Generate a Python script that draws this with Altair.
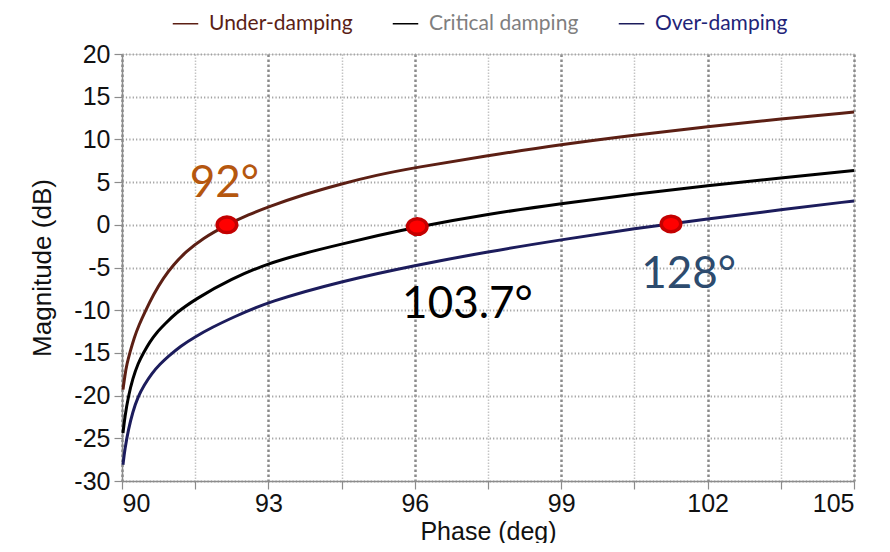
import altair as alt
import pandas as pd

# ---------------- data ----------------
series_names = ["Under-damping", "Critical damping", "Over-damping"]

under_phase = [90.02, 90.06, 90.10, 90.16, 90.25, 90.35, 90.47, 90.65, 90.85, 91.05, 91.30, 91.65,
               92.15, 92.6, 93.0, 93.7, 94.5, 95.2, 96.0, 97.5, 99.0, 100.5, 102.0, 103.5, 105.0]
under_mag = [-19.3, -17.6, -16.3, -15.0, -13.2, -11.7, -10.2, -8.1, -6.2, -4.7, -3.2, -1.6,
             0.0, 1.2, 2.1, 3.5, 4.8, 5.8, 6.7, 8.1, 9.4, 10.5, 11.5, 12.4, 13.2]

crit_phase = [90.02, 90.06, 90.13, 90.22, 90.33, 90.44, 90.57, 90.71, 90.90, 91.09, 91.50, 92.25,
              93.0, 93.75, 94.5, 95.25, 96.0, 97.5, 99.0, 100.5, 102.0, 103.5, 105.0]
crit_mag = [-24.4, -22.4, -20.1, -18.0, -16.2, -15.0, -13.7, -12.6, -11.5, -10.4, -8.7, -6.3,
            -4.5, -3.3, -2.25, -1.25, -0.3, 1.25, 2.5, 3.6, 4.6, 5.5, 6.35]

over_phase = [90.02, 90.06, 90.13, 90.22, 90.33, 90.45, 90.61, 90.78, 90.95, 91.2, 91.5, 91.85,
              92.25, 93.0, 94.5, 96.0, 97.5, 99.0, 100.5, 102.0, 103.5, 105.0]
over_mag = [-28.1, -26.2, -24.0, -21.9, -20.1, -18.8, -17.4, -16.3, -15.4, -14.2, -13.1, -12.0,
            -10.9, -9.0, -6.6, -4.75, -3.15, -1.75, -0.45, 0.7, 1.75, 2.8]

marker_phase = [92.15, 96.05, 101.25]
marker_mag = [0.0, -0.2, 0.1]

label_texts = ["92°", "103.7°", "128°"]
label_phase = [91.39, 95.74, 100.64]
label_mag = [3.3, -10.9, -7.4]
label_colors = ["#b5570f", "#000000", "#2d4b6e"]

x_ticks = [90, 91.5, 93, 94.5, 96, 97.5, 99, 100.5, 102, 103.5, 105]
y_ticks = [-30, -27.5, -25, -22.5, -20, -17.5, -15, -12.5, -10, -7.5, -5, -2.5,
           0, 2.5, 5, 7.5, 10, 12.5, 15, 17.5, 20]

line_colors = ["#5c1f14", "#000000", "#1c1c5c"]

# ---------------- tables ----------------
rows = []
for name, ph, mg in zip(series_names,
                        [under_phase, crit_phase, over_phase],
                        [under_mag, crit_mag, over_mag]):
    for i, (p, m) in enumerate(zip(ph, mg)):
        rows.append({"series": name, "phase": p, "mag": m, "idx": i})
curves = pd.DataFrame(rows)

markers = pd.DataFrame({"phase": marker_phase, "mag": marker_mag})
labels = pd.DataFrame({"text": label_texts, "phase": label_phase,
                       "mag": label_mag, "color": label_colors})

# ---------------- scales / axes ----------------
x_scale = alt.Scale(domain=[90, 105], nice=False, zero=False)
y_scale = alt.Scale(domain=[-30, 20], nice=False, zero=False)

axis_common = dict(
    domainColor="#8c8c8c", domainWidth=1.5,
    tickColor="#8c8c8c", tickSize=8, tickWidth=1.2,
    labelFont="Liberation Sans", labelFontSize=25, labelColor="#111111",
    titleFont="Liberation Sans", titleFontWeight="normal",
    titleColor="#111111", grid=True,
)

x_axis = alt.Axis(
    values=x_ticks, title="Phase (deg)",
    labelExpr="datum.value % 3 === 0 ? '' + datum.value : ''",
    labelPadding=2, titlePadding=3, titleFontSize=25,
    gridColor={"condition": {"test": "datum.value % 3 === 0", "value": "#8a8a8a"}, "value": "#c4c4c4"},
    gridDash={"condition": {"test": "datum.value % 3 === 0", "value": [2.5, 2.5]}, "value": [1.5, 1.5]},
    gridWidth={"condition": {"test": "datum.value % 3 === 0", "value": 2.5}, "value": 1.5},
    **axis_common,
)

y_axis = alt.Axis(
    values=y_ticks, title="Magnitude (dB)",
    labelExpr="datum.value % 5 === 0 ? '' + datum.value : ''",
    labelPadding=4, titlePadding=18, titleFontSize=26,
    gridColor={"condition": {"test": "datum.value % 5 === 0", "value": "#a0a0a0"}, "value": "#cfcfcf"},
    gridDash=[1.2, 2.2],
    gridWidth=2.2,
    **axis_common,
)

x_enc = alt.X("phase:Q", scale=x_scale, axis=x_axis)
y_enc = alt.Y("mag:Q", scale=y_scale, axis=y_axis)

legend = alt.Legend(
    title=None, orient="none", legendX=50, legendY=-44, direction="horizontal",
    symbolType="stroke", symbolSize=650, symbolStrokeWidth=1.5,
    symbolStrokeColor=alt.ExprRef(
        "datum.value === 'Under-damping' ? '#b89a82' : datum.value === 'Critical damping' ? '#bdbdbd' : '#30307a'"),
    labelFont="Lato", labelFontSize=21, labelLimit=300,
    labelColor=alt.ExprRef(
        "datum.label === 'Under-damping' ? '#5a1e16' : datum.label === 'Critical damping' ? '#7f7f7f' : '#1f2478'"),
    columnPadding=36, labelOffset=10, padding=0,
)

lines = alt.Chart(curves).mark_line(strokeWidth=3, interpolate="basis").encode(
    x=x_enc, y=y_enc,
    color=alt.Color("series:N", sort=series_names,
                    scale=alt.Scale(domain=series_names, range=line_colors),
                    legend=legend),
    order=alt.Order("idx:Q"),
)

ellipse = "M -1 0 A 1 0.8 0 1 0 1 0 A 1 0.8 0 1 0 -1 0 Z"
dots = alt.Chart(markers).mark_point(
    shape=ellipse, filled=True, fill="#ff0000", stroke="#c40000",
    strokeWidth=3.5, size=380, opacity=1,
).encode(x=alt.X("phase:Q", scale=x_scale), y=alt.Y("mag:Q", scale=y_scale))

texts = alt.Chart(labels).mark_text(
    align="left", baseline="alphabetic", font="Lato", fontSize=44,
).encode(
    x=alt.X("phase:Q", scale=x_scale), y=alt.Y("mag:Q", scale=y_scale),
    text="text:N", color=alt.Color("color:N", scale=None),
)

chart = alt.layer(lines, dots, texts).properties(
    width=732, height=427,
    padding={"left": 114, "top": 46, "right": 20, "bottom": 62},
    autosize=alt.AutoSizeParams(type="none"),
).configure_view(stroke="#a6a6a6", strokeWidth=1.5).configure(background="white")

chart.save("out.html", embed_options={"renderer": "svg", "actions": False})
